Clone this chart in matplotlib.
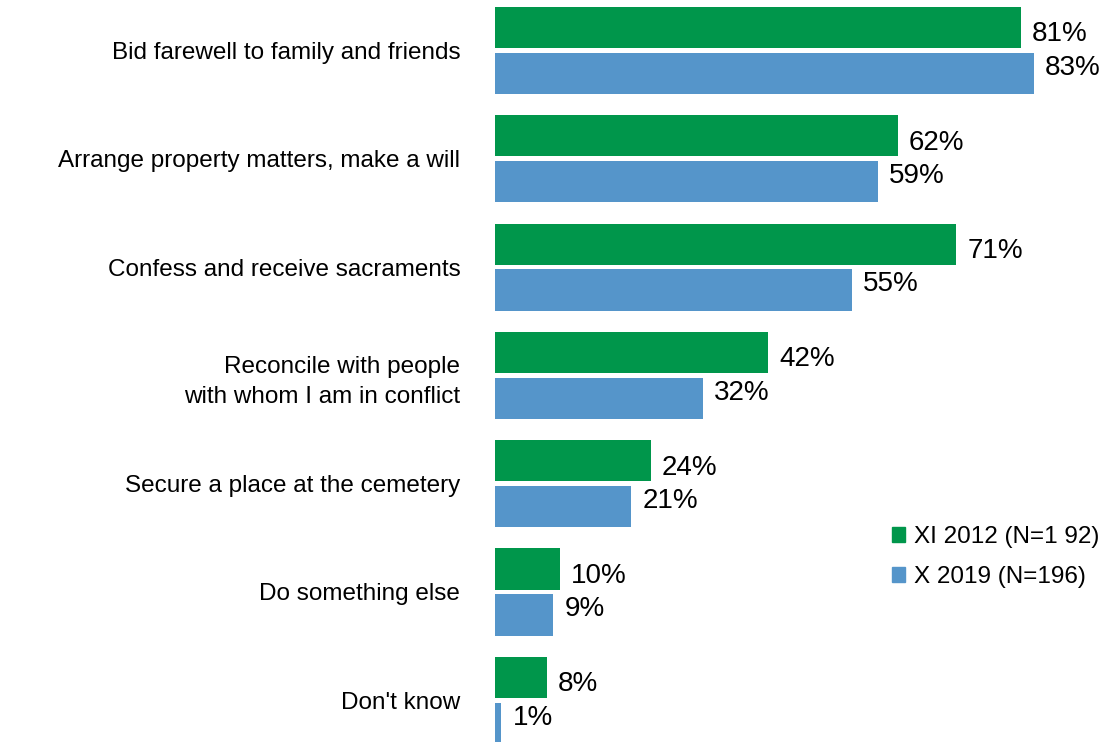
import numpy as np
import matplotlib.pyplot as plt
from matplotlib.patches import Patch

plt.rcParams['font.family'] = ['Liberation Sans', 'DejaVu Sans']

categories = ["Bid farewell to family and friends",
              "Arrange property matters, make a will",
              "Confess and receive sacraments",
              "Reconcile with people\nwith whom I am in conflict",
              "Secure a place at the cemetery",
              "Do something else",
              "Don't know"]
vals_2012 = [81, 62, 71, 42, 24, 10, 8]
vals_2019 = [83, 59, 55, 32, 21, 9, 1]
series_labels = ["XI 2012 (N=1 92)", "X 2019 (N=196)"]
green = "#00964b"
blue = "#5595ca"

fig = plt.figure(figsize=(11.18, 7.42), dpi=100)
ax = fig.add_axes([495/1118, 0, 617/1118, 1])

y = np.arange(len(categories))
off = 0.212
h = 0.38
ax.barh(y - off, vals_2012, height=h, color=green)
ax.barh(y + off, vals_2019, height=h, color=blue)

# value labels, nudged toward the group centre
for yi, v in zip(y, vals_2012):
    ax.annotate(f"{v}%", (v, yi - off), xytext=(8, -5), textcoords='offset points',
                va='center', ha='left', fontsize=20)
for yi, v in zip(y, vals_2019):
    ax.annotate(f"{v}%", (v, yi + off), xytext=(8, 4), textcoords='offset points',
                va='center', ha='left', fontsize=20)

ax.set_xlim(0, 95)
ax.set_ylim(6.385, -0.466)
ax.set_yticks(y)
ax.set_yticklabels(categories, fontsize=17.5, linespacing=1.5, ha='right')
ax.tick_params(axis='y', length=0, pad=25)
ax.set_xticks([])
for s in ax.spines.values():
    s.set_visible(False)

handles = [Patch(color=green), Patch(color=blue)]
fig.legend(handles, series_labels, loc='upper left',
           bbox_to_anchor=(870/1118, 1 - 504/742), frameon=False,
           fontsize=17.5, handlelength=0.55, handleheight=0.55,
           handletextpad=0.35, labelspacing=0.75)

fig.savefig("out.png", dpi=100)
